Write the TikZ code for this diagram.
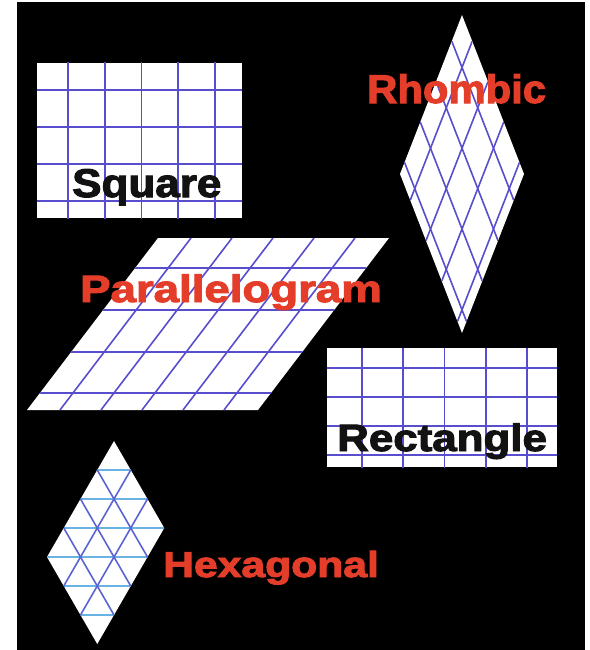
\documentclass[tikz,border=0pt]{standalone}
\usepackage{fontspec}
\setmainfont{Liberation Sans}[BoldFeatures={FakeBold=2.5}]
\usepackage{tikz}
\definecolor{gridblue}{RGB}{88,78,205}
\definecolor{hexline}{RGB}{92,100,212}
\definecolor{hexflat}{RGB}{105,178,228}
\definecolor{tagred}{RGB}{228,62,42}
\definecolor{tagblack}{RGB}{18,18,18}
\tikzset{
  sheet/.style={fill=white},
  gridline/.style={line width=1.6pt, gridblue},
  tag/.style={inner sep=0pt, anchor=base west, font=\bfseries},
}

\begin{document}
\begin{tikzpicture}[x=1pt, y=-1pt]
% Picture coordinates follow the reference pixels: x right, y down.
\useasboundingbox (0,0) rectangle (589,650);
\fill[black] (17,2) rectangle (585,650);
% Square lattice: a white sheet with an evenly spaced grid, clipped
\begin{scope}
 \fill[sheet] (37,63) rectangle (242,218);
 \clip (37,63) rectangle (242,218);
 \foreach \k in {0,...,4}
  \draw[gridline] ({68+36.75*\k},60) -- ++(0,165);
 \foreach \k in {0,...,3}
  \draw[gridline] (30,{90+37*\k}) -- ++(220,0);
\end{scope}
% Rhombic lattice: top vertex (462,15), edge vectors (62,159), (-62,159)
\begin{scope}
 \fill[sheet] (462,15) -- ++(62,159) -- ++(-62,159) -- ++(-62,-159) -- cycle;
 \clip (462,15) -- ++(62,159) -- ++(-62,159) -- ++(-62,-159) -- cycle;
 \foreach \f in {0.165,0.419,0.673,0.927} {
  \draw[gridline] ({462-62*\f},{15+159*\f}) -- ++(62,159);
  \draw[gridline] ({462+62*\f},{15+159*\f}) -- ++(-62,159);
 }
\end{scope}
% Oblique (parallelogram) lattice: horizontal rows and slanted columns
\begin{scope}
 \fill[sheet] (158,238) -- (389,238) -- (258,410) -- (27,410) -- cycle;
 \clip (158,238) -- (389,238) -- (258,410) -- (27,410) -- cycle;
 \foreach \y in {268,310,352,393}
  \draw[gridline] (20,\y) -- (400,\y);
 \foreach \o in {33,74,115,156,197}
  \draw[gridline] ({158+\o},238) -- ({27+\o},410);
\end{scope}
% Rectangular lattice: wider columns than rows
\begin{scope}
 \fill[sheet] (327,348) rectangle (557,467);
 \clip (327,348) rectangle (557,467);
 \foreach \k in {0,...,4}
  \draw[gridline] ({362+41.25*\k},340) -- ++(0,135);
 \foreach \k in {0,...,3}
  \draw[gridline] (320,{368+29*\k}) -- ++(245,0);
\end{scope}
% Hexagonal lattice: 60-degree cell of 3 x 4 triangles, row height 29
\def\hs{16.75}
\begin{scope}
 \fill[sheet] (114,441) -- ++(50.25,87) -- ++(-67,116) -- ++(-50.25,-87) -- cycle;
 \clip (114,441) -- ++(50.25,87) -- ++(-67,116) -- ++(-50.25,-87) -- cycle;
 \foreach \n in {1,...,6}
  \draw[line width=1.6pt, hexflat] (40,{441+29*\n}) -- (170,{441+29*\n});
 \foreach \k in {1,2,3}
  \draw[line width=1.6pt, hexline] ({114-\hs*\k},{441+29*\k}) -- ++(50.25,87);
 \foreach \j in {1,2}
  \draw[line width=1.6pt, hexline] ({114+\hs*\j},{441+29*\j}) -- ++(-67,116);
\end{scope}
% Names of the five lattices
\node[tag, text=tagblack, font=\fontsize{40}{40}\selectfont\bfseries] (square) at (72,197)
 {\scalebox{1.1}[1]{Square}};
\node[tag, text=tagred, font=\fontsize{40}{40}\selectfont\bfseries] (rhombic) at (367,103)
 {\scalebox{1.045}[1]{Rhombic}};
\node[tag, text=tagred, font=\fontsize{38}{38}\selectfont\bfseries] (parallelogram) at (80,302)
 {\scalebox{1.2}[1]{Parallelogram}};
\node[tag, text=tagblack, font=\fontsize{38}{38}\selectfont\bfseries] (rectangle) at (337,451)
 {\scalebox{1.155}[1]{Rectangle}};
\node[tag, text=tagred, font=\fontsize{36}{36}\selectfont\bfseries] (hexagonal) at (163,577)
 {\scalebox{1.185}[1]{Hexagonal}};
\end{tikzpicture}
\end{document}
